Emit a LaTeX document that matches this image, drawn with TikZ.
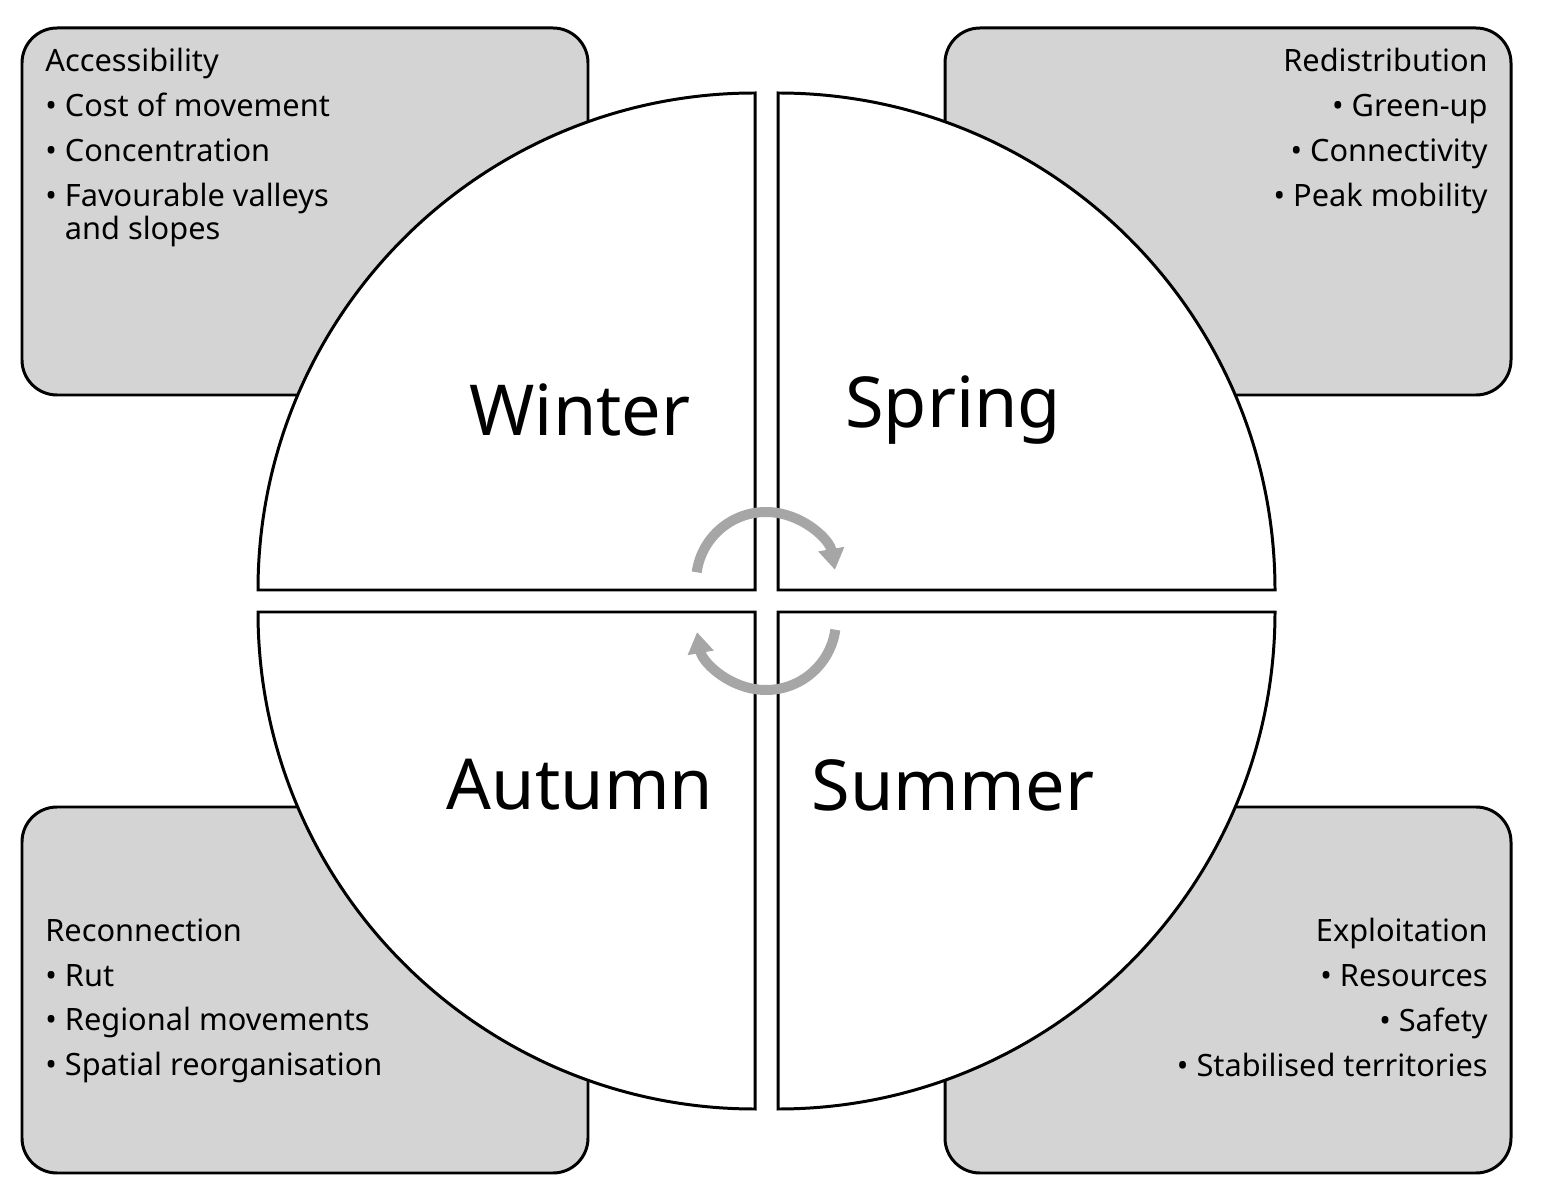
\documentclass[tikz,border=0pt]{standalone}
\usepackage{fontspec}
\setmainfont{Noto Sans}
\usetikzlibrary{arrows.meta}
\begin{document}
\begin{tikzpicture}
  \def\qrad{9.94}
  \tikzset{
    infobox/.style = {draw, fill=black!17, line width=1.7pt, rounded corners=0.7cm},
    quarter/.style = {draw, fill=white, line width=1.7pt},
    season/.style = {font=\fontsize{40}{48}\selectfont\bfseries, inner sep=0pt},
    infotext/.style = {font=\fontsize{17.5}{25.6}\selectfont, inner sep=0pt},
    cyclearrow/.style = {draw=black!35, line width=0.2cm, -{Triangle[length=0.42cm,width=0.5cm]}}
  }
  \useasboundingbox (0,0) rectangle (30.88,24.06);

  % boxes behind the circle
  \draw[infobox] (0.44,16.16) rectangle (11.76,23.5);
  \draw[infobox] (18.9,16.16) rectangle (30.22,23.5);
  \draw[infobox] (0.44,0.6) rectangle (11.76,7.92);
  \draw[infobox] (18.9,0.6) rectangle (30.22,7.92);

  % four quarters
  \draw[quarter] (15.1,12.26) -- ++(-\qrad,0) arc[start angle=180, end angle=90, radius=\qrad] -- cycle;
  \draw[quarter] (15.56,12.26) -- ++(0,\qrad) arc[start angle=90, end angle=0, radius=\qrad] -- cycle;
  \draw[quarter] (15.1,11.82) -- ++(0,-\qrad) arc[start angle=270, end angle=180, radius=\qrad] -- cycle;
  \draw[quarter] (15.56,11.82) -- ++(\qrad,0) arc[start angle=0, end angle=-90, radius=\qrad] -- cycle;

  % cycle arrows
  \draw[cyclearrow] (15.32,12.42) ++(172:1.4) arc[start angle=172, end angle=10, radius=1.4];
  \draw[cyclearrow] (15.32,11.66) ++(-8:1.4) arc[start angle=-8, end angle=-170, radius=1.4];

  % season labels
  \node[season] (winter) at (11.6,15.86) {Winter};
  \node[season] (spring) at (19.06,15.86) {Spring};
  \node[season] (autumn) at (11.6,8.36) {Autumn};
  \node[season] (summer) at (19.06,8.36) {Summer};

  % box texts
  \node[infotext, anchor=north west, align=left] (access) at (0.9,23.1)
    {\textbf{Accessibility}\\ \textbullet\ Cost of movement\\ \textbullet\ Concentration\\
     \textbullet\ Favourable valleys\\[-7pt] \hphantom{\textbullet\ }and slopes};
  \node[infotext, anchor=north east, align=right] (redist) at (29.76,23.1)
    {\textbf{Redistribution}\\ \textbullet\ Green-up\\ \textbullet\ Connectivity\\ \textbullet\ Peak mobility};
  \node[infotext, anchor=north west, align=left] (reconn) at (0.9,5.7)
    {\textbf{Reconnection}\\ \textbullet\ Rut\\ \textbullet\ Regional movements\\ \textbullet\ Spatial reorganisation};
  \node[infotext, anchor=north east, align=right] (exploit) at (29.76,5.7)
    {\textbf{Exploitation}\\ \textbullet\ Resources\\ \textbullet\ Safety\\ \textbullet\ Stabilised territories};
\end{tikzpicture}
\end{document}
